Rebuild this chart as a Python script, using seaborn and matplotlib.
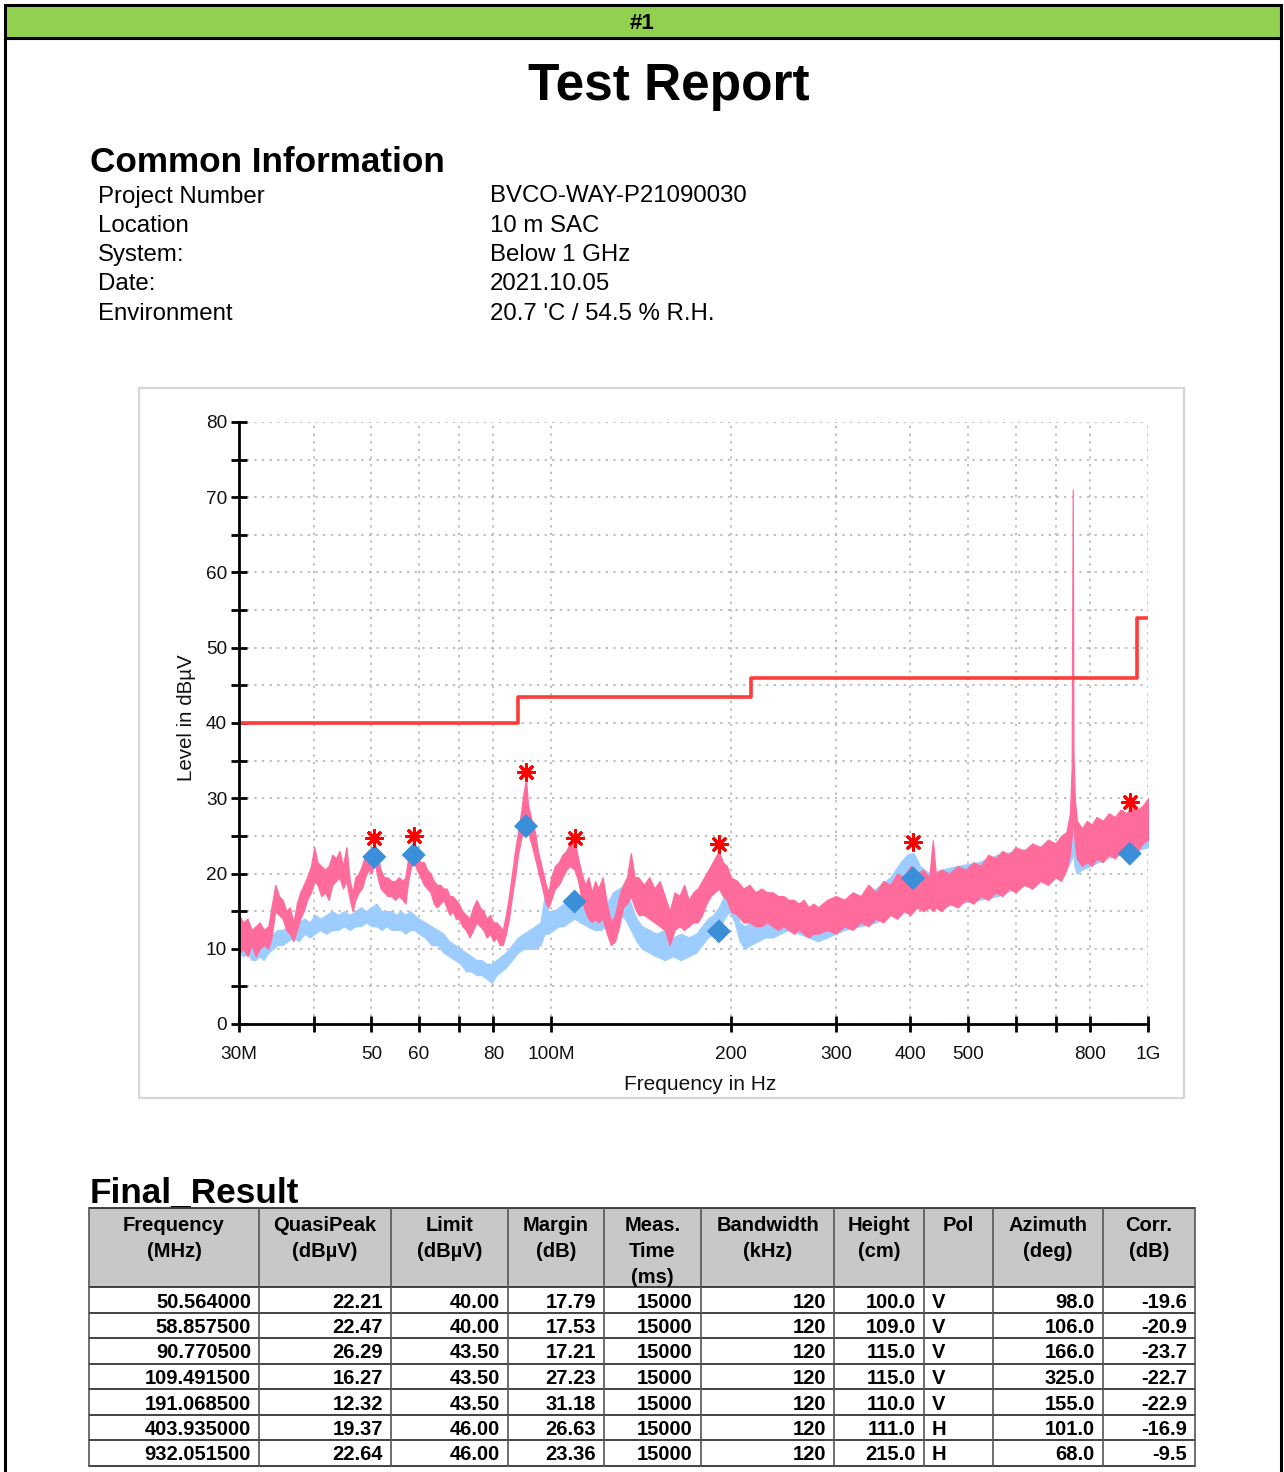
import matplotlib
matplotlib.use("Agg")
import matplotlib.pyplot as plt
from matplotlib import font_manager
from matplotlib.patches import Rectangle
from matplotlib.ticker import FixedLocator, FixedFormatter, NullLocator
import seaborn as sns

# ---------------- data ----------------
info_labels = ["Project Number", "Location", "System:", "Date:", "Environment"]
info_values = ["BVCO-WAY-P21090030", "10 m SAC", "Below 1 GHz", "2021.10.05",
               "20.7 'C / 54.5 % R.H."]

# limit line (steps)
limit_mhz = [30, 88, 216, 960, 1000]
limit_db = [40.0, 43.5, 46.0, 54.0, 54.0]

# final result table
res_freq = [50.564, 58.8575, 90.7705, 109.4915, 191.0685, 403.935, 932.0515]
res_qp = [22.21, 22.47, 26.29, 16.27, 12.32, 19.37, 22.64]
res_limit = [40.00, 40.00, 43.50, 43.50, 43.50, 46.00, 46.00]
res_margin = [17.79, 17.53, 17.21, 27.23, 31.18, 26.63, 23.36]
res_time = [15000, 15000, 15000, 15000, 15000, 15000, 15000]
res_bw = [120, 120, 120, 120, 120, 120, 120]
res_height = [100.0, 109.0, 115.0, 115.0, 110.0, 111.0, 215.0]
res_pol = ["V", "V", "V", "V", "V", "H", "H"]
res_azimuth = [98.0, 106.0, 166.0, 325.0, 155.0, 101.0, 68.0]
res_corr = [-19.6, -20.9, -23.7, -22.7, -22.9, -16.9, -9.5]
# preview peak level at the same frequencies (red stars)
peak_db = [24.7, 25.0, 33.5, 24.7, 23.9, 24.2, 29.5]

# spectrum traces: (MHz, lower edge, upper edge)
pink_trace = [
    (30.0, 9.5, 14.5), (30.5, 10.0, 13.5), (31.0, 9.0, 14.0), (31.5, 10.5, 12.5),
    (32.0, 9.0, 13.0), (32.5, 10.0, 13.5), (33.0, 10.5, 12.5), (33.6, 10.0, 13.0),
    (34.0, 11.5, 15.5), (34.5, 15.0, 18.5), (35.0, 14.5, 17.0), (35.5, 14.0, 16.5),
    (36.0, 12.5, 15.0), (36.5, 12.0, 15.5), (37.0, 11.0, 13.5), (37.5, 12.5, 16.0),
    (38.0, 14.0, 17.5), (38.5, 15.0, 18.5), (39.0, 16.5, 19.5), (39.6, 17.5, 21.0),
    (40.1, 19.0, 23.5), (40.6, 18.5, 21.5), (41.2, 17.0, 21.0), (41.8, 17.5, 20.5),
    (42.4, 16.5, 21.0), (43.0, 18.5, 22.5), (43.6, 19.0, 22.0), (44.2, 19.5, 23.0),
    (44.8, 18.0, 21.0), (45.4, 19.0, 23.5), (46.0, 16.5, 19.0), (46.5, 15.0, 17.5),
    (47.0, 16.5, 19.5), (47.6, 17.5, 20.0), (48.2, 18.0, 21.0), (48.8, 19.5, 22.5),
    (49.4, 20.5, 23.0), (50.0, 20.0, 22.5), (50.6, 21.5, 24.0), (51.2, 19.5, 22.5),
    (51.8, 18.0, 20.5), (52.5, 17.5, 19.5), (53.2, 17.0, 19.5), (54.0, 17.0, 19.0),
    (54.8, 16.5, 19.0), (55.6, 17.0, 19.5), (56.4, 16.5, 19.0), (57.0, 16.0, 19.5),
    (57.6, 19.0, 22.0), (58.3, 21.0, 23.5), (58.9, 21.5, 24.5), (59.6, 20.5, 22.5),
    (60.4, 19.5, 21.5), (61.2, 18.5, 21.5), (62.0, 18.0, 20.5), (62.8, 17.5, 20.0),
    (63.6, 16.0, 19.0), (64.4, 15.5, 18.5), (65.2, 16.0, 18.5), (66.0, 16.5, 18.0),
    (66.8, 15.5, 18.0), (67.6, 14.5, 17.0), (68.4, 15.0, 17.0), (69.2, 14.0, 16.5),
    (70.0, 14.0, 16.0), (71.0, 13.0, 15.0), (72.0, 12.5, 14.5), (73.0, 11.5, 14.0),
    (74.0, 12.5, 15.5), (75.0, 13.5, 16.5), (76.0, 13.0, 15.5), (77.0, 12.5, 15.0),
    (78.0, 11.5, 14.0), (79.0, 12.0, 14.5), (80.0, 11.0, 13.5), (81.0, 11.5, 13.5),
    (82.0, 10.5, 13.0), (83.0, 10.5, 12.5), (84.0, 12.0, 14.5), (85.0, 14.0, 17.0),
    (86.0, 17.0, 20.0), (87.0, 19.5, 23.0), (88.0, 22.5, 25.5), (89.0, 24.5, 28.0),
    (90.0, 26.0, 31.0), (90.8, 26.5, 32.5), (91.5, 25.5, 29.0), (92.2, 24.5, 28.0),
    (93.0, 23.5, 26.5), (94.0, 22.0, 25.5), (95.0, 20.5, 23.0), (96.0, 19.0, 21.5),
    (97.0, 17.5, 20.0), (98.0, 16.0, 18.5), (99.0, 15.5, 17.5), (100.0, 16.5, 19.5),
    (101.5, 18.0, 21.0), (103.0, 18.5, 21.5), (104.5, 19.5, 22.5), (106.0, 20.5, 23.0),
    (107.5, 21.0, 24.0), (109.5, 20.5, 24.3), (111.0, 19.0, 22.0), (112.5, 16.5, 20.0),
    (114.0, 15.0, 18.5), (115.5, 14.0, 19.5), (117.0, 13.5, 17.5), (118.5, 14.0, 19.0),
    (120.0, 13.5, 18.0), (122.0, 14.0, 19.5), (124.0, 12.0, 16.0), (126.0, 10.5, 13.5),
    (128.0, 11.0, 14.5), (130.0, 13.0, 17.0), (132.0, 15.5, 18.5), (134.0, 16.0, 19.5),
    (136.0, 17.0, 22.7), (138.0, 15.5, 19.5), (140.0, 14.5, 19.5), (143.0, 14.5, 18.5),
    (146.0, 14.0, 19.5), (149.0, 13.5, 18.0), (152.0, 13.0, 19.0), (155.0, 12.5, 17.0),
    (158.0, 10.5, 15.0), (161.0, 12.5, 17.5), (164.0, 13.0, 17.0), (167.0, 12.5, 18.5),
    (170.0, 13.0, 16.5), (173.0, 13.5, 17.5), (176.0, 13.5, 18.0), (179.0, 14.5, 19.0),
    (182.0, 16.0, 20.0), (185.0, 17.0, 21.0), (188.0, 17.5, 22.0), (191.0, 18.0, 23.0),
    (194.0, 17.0, 21.5), (197.0, 16.5, 21.0), (200.0, 15.0, 19.5), (205.0, 14.5, 19.0),
    (210.0, 13.5, 18.0), (215.0, 13.5, 18.5), (220.0, 13.0, 17.5), (225.0, 13.0, 18.0),
    (230.0, 13.5, 17.5), (235.0, 13.0, 17.5), (240.0, 12.5, 17.0), (245.0, 13.0, 17.0),
    (250.0, 12.5, 16.5), (255.0, 12.0, 16.5), (260.0, 12.5, 16.0), (265.0, 12.0, 16.5),
    (270.0, 11.5, 15.5), (275.0, 12.0, 16.0), (280.0, 12.0, 15.5), (290.0, 12.5, 16.5),
    (300.0, 12.0, 17.0), (310.0, 13.0, 16.5), (320.0, 12.5, 17.5), (330.0, 13.5, 17.0),
    (340.0, 13.0, 18.5), (350.0, 14.0, 17.5), (360.0, 13.5, 19.0), (370.0, 14.5, 18.5),
    (380.0, 14.0, 20.0), (390.0, 15.0, 19.5), (400.0, 14.5, 21.0), (410.0, 15.5, 20.0),
    (420.0, 15.0, 20.5), (430.0, 15.5, 19.5), (436.0, 15.0, 24.4), (441.0, 15.5, 20.0),
    (450.0, 15.0, 20.5), (465.0, 16.0, 20.0), (480.0, 15.5, 21.0), (495.0, 16.5, 20.5),
    (510.0, 16.0, 21.5), (525.0, 17.0, 21.0), (540.0, 16.5, 22.5), (555.0, 17.5, 22.0),
    (570.0, 17.0, 23.0), (585.0, 18.0, 22.5), (600.0, 17.5, 23.5), (620.0, 18.5, 23.0),
    (640.0, 18.0, 24.0), (660.0, 19.0, 23.5), (680.0, 18.5, 24.5), (700.0, 19.5, 24.0),
    (715.0, 19.0, 25.0), (730.0, 20.5, 25.5), (740.0, 22.5, 28.0), (745.0, 25.0, 34.0),
    (748.0, 28.0, 71.0), (750.0, 27.0, 36.0), (754.0, 24.0, 30.0), (760.0, 22.0, 27.0),
    (775.0, 21.0, 26.0), (790.0, 21.5, 27.0), (805.0, 21.0, 26.5), (820.0, 22.0, 27.5),
    (840.0, 21.5, 27.0), (860.0, 22.5, 28.0), (880.0, 22.0, 27.5), (900.0, 23.0, 28.5),
    (920.0, 22.5, 28.0), (940.0, 23.5, 29.0), (960.0, 23.0, 28.5), (980.0, 24.0, 29.0),
    (1000.0, 24.5, 30.0),
]

blue_trace = [
    (30.0, 9.5, 11.5), (30.5, 9.0, 11.0), (31.0, 9.5, 11.5), (31.5, 8.5, 10.5),
    (32.0, 8.5, 11.0), (32.5, 9.0, 11.0), (33.0, 8.5, 10.5), (33.6, 9.5, 11.5),
    (34.2, 10.0, 12.0), (34.8, 10.5, 12.5), (35.5, 10.5, 12.5), (36.2, 11.0, 13.0),
    (37.0, 11.5, 13.0), (37.8, 11.0, 13.5), (38.6, 12.0, 14.0), (39.4, 11.5, 13.5),
    (40.2, 12.0, 14.5), (41.0, 12.5, 14.0), (42.0, 12.0, 14.5), (43.0, 12.5, 15.0),
    (44.0, 12.5, 14.5), (45.0, 13.0, 15.0), (46.0, 12.5, 14.5), (47.0, 13.0, 15.0),
    (48.0, 13.0, 15.5), (49.0, 13.5, 15.0), (50.0, 13.0, 15.5), (51.0, 13.0, 16.0),
    (52.0, 12.5, 15.0), (53.0, 13.0, 15.0), (54.0, 12.5, 15.0), (55.0, 12.5, 14.5),
    (56.0, 12.5, 15.0), (57.0, 12.0, 14.5), (58.0, 12.5, 15.0), (59.0, 12.5, 14.5),
    (60.0, 12.0, 14.0), (61.5, 11.5, 13.5), (63.0, 10.5, 13.0), (64.5, 10.5, 12.5),
    (66.0, 9.5, 12.0), (67.5, 9.0, 11.0), (69.0, 8.5, 10.5), (70.5, 8.0, 10.0),
    (72.0, 7.0, 9.5), (73.5, 7.0, 9.0), (75.0, 6.5, 8.5), (76.5, 6.5, 8.5),
    (78.0, 6.0, 8.0), (79.5, 5.5, 8.0), (81.0, 6.5, 8.5), (82.5, 7.0, 9.0),
    (84.0, 7.5, 9.5), (86.0, 8.5, 10.5), (88.0, 9.5, 11.5), (90.0, 10.0, 12.0),
    (92.0, 10.0, 12.5), (94.0, 10.0, 13.0), (96.0, 10.5, 13.5), (97.5, 12.0, 17.0),
    (99.0, 12.0, 15.0), (101.0, 12.5, 15.0), (103.0, 13.0, 15.5), (105.0, 13.0, 16.0),
    (107.0, 13.5, 16.0), (109.5, 14.0, 17.0), (112.0, 13.5, 16.5), (115.0, 13.0, 16.5),
    (118.0, 12.5, 16.0), (121.0, 12.5, 15.5), (124.0, 13.0, 16.0), (127.0, 14.0, 17.5),
    (130.0, 14.5, 18.0), (133.0, 14.0, 18.5), (136.0, 12.5, 16.0), (139.0, 11.0, 14.0),
    (142.0, 10.0, 13.0), (146.0, 9.5, 12.5), (150.0, 9.0, 12.0), (155.0, 8.5, 12.5),
    (160.0, 9.0, 11.5), (165.0, 8.5, 12.0), (170.0, 9.0, 11.5), (175.0, 9.5, 12.0),
    (179.0, 10.5, 13.0), (183.0, 11.5, 14.0), (187.0, 12.0, 14.5), (191.0, 12.5, 15.5),
    (195.0, 14.0, 17.0), (199.0, 15.0, 18.0), (203.0, 13.5, 16.0), (207.0, 11.0, 13.5),
    (211.0, 10.0, 13.0), (216.0, 10.5, 13.5), (222.0, 11.0, 14.5), (228.0, 11.5, 15.0),
    (235.0, 11.5, 15.5), (242.0, 12.0, 15.5), (250.0, 12.5, 15.5), (260.0, 12.0, 15.0),
    (270.0, 11.5, 14.5), (280.0, 11.0, 14.5), (290.0, 11.5, 15.5), (300.0, 12.0, 16.0),
    (310.0, 12.5, 16.5), (330.0, 13.0, 17.0), (350.0, 13.5, 18.0), (370.0, 14.5, 19.5),
    (385.0, 16.0, 21.5), (395.0, 17.0, 22.5), (405.0, 17.5, 22.7), (415.0, 16.0, 21.0),
    (430.0, 15.5, 20.0), (450.0, 15.5, 20.5), (480.0, 16.0, 21.0), (520.0, 16.5, 21.5),
    (560.0, 17.0, 22.5), (600.0, 18.0, 23.0), (650.0, 19.0, 23.5), (700.0, 20.0, 24.0),
    (735.0, 21.0, 25.0), (745.0, 22.0, 27.0), (749.0, 23.0, 29.3), (753.0, 21.0, 25.0),
    (760.0, 20.0, 23.5), (775.0, 20.5, 24.0), (800.0, 21.0, 24.5), (850.0, 22.0, 26.5),
    (900.0, 22.5, 27.0), (950.0, 23.0, 27.5), (1000.0, 23.5, 28.0),
]

x_ticks = [30, 40, 50, 60, 70, 80, 100, 200, 300, 400, 500, 600, 700, 800, 1000]
x_tick_labels = ["30M", "", "50", "60", "", "80", "100M", "200", "300", "400",
                 "500", "", "", "800", "1G"]
y_ticks = list(range(0, 81, 5))

header_labels = ["Frequency\n(MHz)", "QuasiPeak\n(dBµV)", "Limit\n(dBµV)", "Margin\n(dB)",
                 "Meas.\nTime\n(ms)", "Bandwidth\n(kHz)", "Height\n(cm)", "Pol",
                 "Azimuth\n(deg)", "Corr.\n(dB)"]

# ---------------- style ----------------
sns.set_style("white")
plt.rcParams["font.family"] = ["Liberation Sans", "DejaVu Sans"]
plt.rcParams["text.color"] = "black"
names = {f.name for f in font_manager.fontManager.ttflist}
narrow = "Liberation Sans Narrow" if "Liberation Sans Narrow" in names else "Liberation Sans"

PINK = "#ff6c9c"
BLUE = "#9dcdff"
DIAMOND = "#3a8fd8"
LIMIT = "#ff3b3b"

fig = plt.figure(figsize=(12.84, 14.72), dpi=100)

# background axes in pixel coordinates
bg = fig.add_axes([0, 0, 1, 1])
bg.set_xlim(0, 1284)
bg.set_ylim(1472, 0)
bg.axis("off")

# header bar and page border
bg.add_patch(Rectangle((5, 5), 1276, 33, facecolor="#92d050", edgecolor="black", lw=2.2))
bg.plot([5, 5], [38, 1472], color="black", lw=2.2)
bg.plot([1281, 1281], [38, 1472], color="black", lw=2.2)
bg.text(642, 29, "#1", ha="center", va="baseline", fontsize=16, fontweight="bold",
        family=narrow)
title_size = 41 if narrow != "Liberation Sans" else 37
bg.text(669, 100, "Test Report", ha="center", va="baseline", fontsize=title_size,
        fontweight="bold", family=narrow)

# common information
bg.text(90, 172, "Common Information", ha="left", va="baseline", fontsize=25.3,
        fontweight="bold")
for i, (lab, val) in enumerate(zip(info_labels, info_values)):
    yb = 202.5 + i * 29.3
    bg.text(98, yb, lab, ha="left", va="baseline", fontsize=17.3)
    bg.text(490, yb, val, ha="left", va="baseline", fontsize=17.3)

# chart frame
bg.add_patch(Rectangle((139, 388), 1045, 710, facecolor="white", edgecolor="#d6d6d6", lw=1.6))
bg.text(186, 718, "Level in dBµV", rotation=90, ha="center", va="center", fontsize=14.8,
        color="#111111")
bg.text(700, 1084, "Frequency in Hz", ha="center", va="center", fontsize=15,
        color="#111111")

# ---------------- spectrum chart ----------------
ax = fig.add_axes([239 / 1284, 1 - 1024 / 1472, 909 / 1284, 602 / 1472])
ax.set_facecolor("none")
ax.set_xscale("log")
ax.set_xlim(30, 1000)
ax.set_ylim(0, 80)

bf, blo, bhi = zip(*blue_trace)
pf, plo, phi = zip(*pink_trace)
ax.fill_between(bf, blo, bhi, color=BLUE, lw=0.9, zorder=2)
ax.fill_between(pf, plo, phi, color=PINK, lw=0.9, zorder=3)

sns.lineplot(x=limit_mhz, y=limit_db, drawstyle="steps-post", color=LIMIT, lw=2.6,
             estimator=None, ax=ax, zorder=4)
sns.scatterplot(x=res_freq, y=res_qp, marker="D", s=150, color=DIAMOND, edgecolor="none",
                ax=ax, zorder=6)
ax.scatter(res_freq, peak_db, marker=(8, 2, 0), s=130, color="red", linewidths=2.2,
           zorder=6)

ax.xaxis.set_major_locator(FixedLocator(x_ticks))
ax.xaxis.set_major_formatter(FixedFormatter(x_tick_labels))
ax.xaxis.set_minor_locator(NullLocator())
ax.set_yticks(y_ticks)
ax.set_yticklabels([str(v) if v % 10 == 0 else "" for v in y_ticks])

ax.grid(True, color="#adadad", lw=1.1, linestyle=(0, (1.5, 3.5)))
ax.set_axisbelow(True)
for s in ["top", "right"]:
    ax.spines[s].set_visible(False)
for s in ["left", "bottom"]:
    ax.spines[s].set_color("black")
    ax.spines[s].set_linewidth(2.0)
    ax.spines[s].set_zorder(7)
ax.tick_params(axis="both", which="major", direction="inout", length=11, width=2.0,
               color="black", labelsize=13.7, labelcolor="#111111",
               bottom=True, left=True, top=False, right=False)
ax.tick_params(axis="x", pad=10)
ax.tick_params(axis="y", pad=3)
ax.set_xlabel("")
ax.set_ylabel("")
if ax.get_legend():
    ax.get_legend().remove()

# ---------------- final result table ----------------
bg.text(90, 1203, "Final_Result", ha="left", va="baseline", fontsize=25.3, fontweight="bold")

col_edges = [89, 259, 391, 508, 604, 701, 834, 924, 993, 1103, 1195]
head_top, head_bot = 1208, 1287
row_edges = [1287, 1313, 1338, 1364, 1389, 1415, 1440, 1466]

bg.add_patch(Rectangle((col_edges[0], head_top), col_edges[-1] - col_edges[0],
                       head_bot - head_top, facecolor="#c8c8c8", edgecolor="none"))
for y in [head_top] + row_edges:
    bg.plot([col_edges[0], col_edges[-1]], [y, y], color="#222222", lw=1.2)
for x in col_edges:
    bg.plot([x, x], [head_top, row_edges[-1]], color="#555555", lw=1.2)

for c, lab in enumerate(header_labels):
    xc = (col_edges[c] + col_edges[c + 1]) / 2
    for k, line in enumerate(lab.split("\n")):
        bg.text(xc, 1231 + 26 * k, line, ha="center", va="baseline", fontsize=14.5,
                fontweight="bold")

rows = zip(res_freq, res_qp, res_limit, res_margin, res_time, res_bw, res_height,
           res_pol, res_azimuth, res_corr)
for r, vals in enumerate(rows):
    cells = [f"{vals[0]:.6f}", f"{vals[1]:.2f}", f"{vals[2]:.2f}", f"{vals[3]:.2f}",
             f"{vals[4]:d}", f"{vals[5]:d}", f"{vals[6]:.1f}", vals[7],
             f"{vals[8]:.1f}", f"{vals[9]:.1f}"]
    yb = (row_edges[r] + row_edges[r + 1]) / 2 + 7.5
    for c, txt in enumerate(cells):
        if c == 7:
            bg.text(col_edges[c] + 8, yb, txt, ha="left", va="baseline", fontsize=14.5,
                    fontweight="bold")
        else:
            bg.text(col_edges[c + 1] - 8, yb, txt, ha="right", va="baseline",
                    fontsize=14.5, fontweight="bold")

fig.savefig("out.png", dpi=100)
